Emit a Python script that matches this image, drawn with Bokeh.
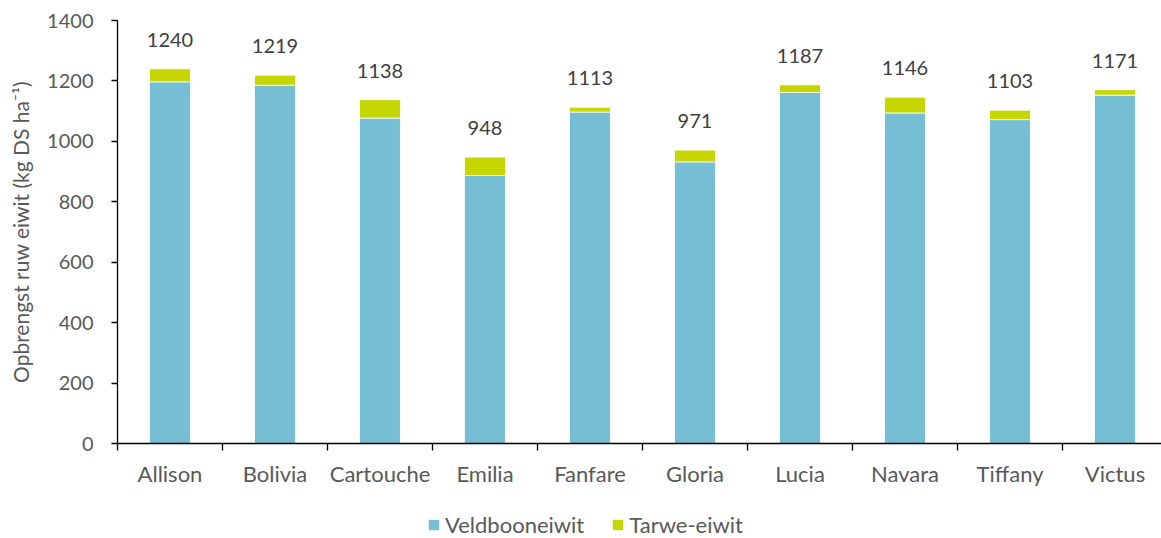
from bokeh.plotting import figure
from bokeh.layouts import column
from bokeh.models import Range1d, FixedTicker, ColumnDataSource, Legend, LegendItem
from bokeh.core.properties import value
from bokeh.embed import file_html
from bokeh.resources import INLINE

rassen = ["Allison", "Bolivia", "Cartouche", "Emilia", "Fanfare",
          "Gloria", "Lucia", "Navara", "Tiffany", "Victus"]
veldbooneiwit = [1197, 1186, 1077, 887, 1097, 932, 1162, 1094, 1072, 1153]
tarwe_eiwit = [43, 33, 61, 61, 16, 39, 25, 52, 31, 18]
totaal = [1240, 1219, 1138, 948, 1113, 971, 1187, 1146, 1103, 1171]
y_ticks = [0, 200, 400, 600, 800, 1000, 1200, 1400]
reeksen = ["Veldbooneiwit", "Tarwe-eiwit"]

FONT = "Lato"
GREY = "#595959"
BLUE = "#75BED3"
GREEN = "#C5D600"

xpos = [i + 0.5 for i in range(len(rassen))]
src = ColumnDataSource(dict(x=xpos, veld=veldbooneiwit, tarwe=tarwe_eiwit,
                            tot=totaal, lab=[str(t) for t in totaal]))

p = figure(width=1161, height=496, output_backend="svg", toolbar_location=None,
           x_range=Range1d(0, 9.943), y_range=Range1d(0, 1400),
           min_border_left=117, min_border_right=0, min_border_top=20,
           min_border_bottom=53)
p.outline_line_color = None
p.xgrid.visible = False
p.ygrid.visible = False

r = p.vbar_stack(["veld", "tarwe"], x="x", width=0.39, source=src,
                 color=[BLUE, GREEN], line_color="white", line_width=0.8)

p.text(x="x", y="tot", text="lab", source=src, text_align="center",
       text_baseline="middle", y_offset=-29, text_font=value(FONT),
       text_font_size="20px", text_color="#404040")

# y axis
ya = p.yaxis[0]
ya.ticker = FixedTicker(ticks=y_ticks)
ya.axis_label = "Opbrengst ruw eiwit (kg DS ha⁻¹)"
ya.axis_label_text_font = FONT
ya.axis_label_text_font_style = "normal"
ya.axis_label_text_font_size = "21px"
ya.axis_label_text_color = GREY
ya.axis_label_standoff = 11
ya.major_label_text_font = FONT
ya.major_label_text_font_size = "20px"
ya.major_label_text_color = GREY
ya.major_label_standoff = 18
ya.major_tick_in = 0
ya.major_tick_out = 6
ya.minor_tick_in = 0
ya.minor_tick_out = 0
ya.axis_line_color = "black"
ya.axis_line_width = 1.3
ya.major_tick_line_color = "black"
ya.major_tick_line_width = 1.3

# x axis
xa = p.xaxis[0]
xa.ticker = FixedTicker(ticks=xpos, minor_ticks=list(range(len(rassen) + 1)))
xa.major_label_overrides = {x: n for x, n in zip(xpos, rassen)}
xa.major_label_text_font = FONT
xa.major_label_text_font_size = "22px"
xa.major_label_text_color = GREY
xa.major_label_standoff = 9
xa.major_tick_in = 0
xa.major_tick_out = 0
xa.minor_tick_in = 0
xa.minor_tick_out = 7
xa.minor_tick_line_color = "black"
xa.minor_tick_line_width = 1.3
xa.axis_line_color = "black"
xa.axis_line_width = 1.3

# legend strip (its bars lie far outside its visible range, only the legend shows)
lg = figure(width=1161, height=42, output_backend="svg", toolbar_location=None,
            x_range=Range1d(0, 9.943), y_range=Range1d(50000, 60000),
            x_axis_type=None, y_axis_type=None,
            min_border_left=117, min_border_right=0, min_border_top=0,
            min_border_bottom=0)
lg.outline_line_color = None
lr = lg.vbar_stack(["veld", "tarwe"], x="x", width=0.39, source=src,
                   color=[BLUE, GREEN], line_color=None)
legend = Legend(items=[LegendItem(label=reeksen[0], renderers=[lr[0]]),
                       LegendItem(label=reeksen[1], renderers=[lr[1]])],
                orientation="horizontal", location=(310, 0),
                glyph_width=13, glyph_height=13, label_standoff=5,
                spacing=27, padding=0, margin=0,
                label_text_font=FONT, label_text_font_size="22px",
                label_text_color=GREY, border_line_color=None,
                background_fill_alpha=0)
lg.add_layout(legend, "center")

layout = column(p, lg, spacing=0)
open("out.html", "w").write(file_html(layout, INLINE))
